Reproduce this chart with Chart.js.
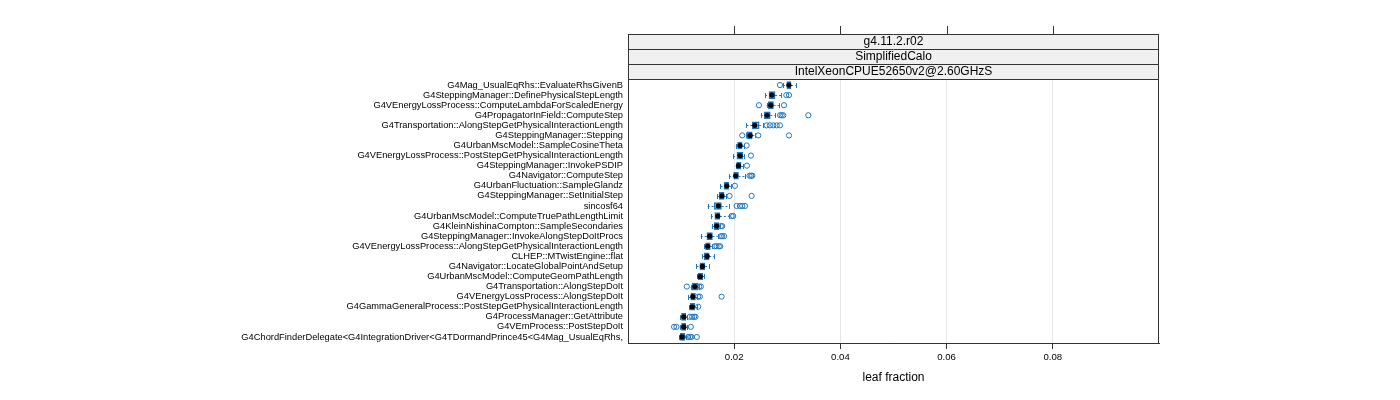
<!DOCTYPE html>
<html><head><meta charset="utf-8">
<script src="https://cdn.jsdelivr.net/npm/chart.js@4/dist/chart.umd.min.js"></script>
<style>html,body{margin:0;padding:0;background:#fff}#wrap{width:1400px;height:400px;position:relative}</style>
</head><body><div id="wrap"><canvas id="c" width="1400" height="400"></canvas></div>
<script>
const categories = [
  'G4Mag_UsualEqRhs::EvaluateRhsGivenB',
  'G4SteppingManager::DefinePhysicalStepLength',
  'G4VEnergyLossProcess::ComputeLambdaForScaledEnergy',
  'G4PropagatorInField::ComputeStep',
  'G4Transportation::AlongStepGetPhysicalInteractionLength',
  'G4SteppingManager::Stepping',
  'G4UrbanMscModel::SampleCosineTheta',
  'G4VEnergyLossProcess::PostStepGetPhysicalInteractionLength',
  'G4SteppingManager::InvokePSDIP',
  'G4Navigator::ComputeStep',
  'G4UrbanFluctuation::SampleGlandz',
  'G4SteppingManager::SetInitialStep',
  'sincosf64',
  'G4UrbanMscModel::ComputeTruePathLengthLimit',
  'G4KleinNishinaCompton::SampleSecondaries',
  'G4SteppingManager::InvokeAlongStepDoItProcs',
  'G4VEnergyLossProcess::AlongStepGetPhysicalInteractionLength',
  'CLHEP::MTwistEngine::flat',
  'G4Navigator::LocateGlobalPointAndSetup',
  'G4UrbanMscModel::ComputeGeomPathLength',
  'G4Transportation::AlongStepDoIt',
  'G4VEnergyLossProcess::AlongStepDoIt',
  'G4GammaGeneralProcess::PostStepGetPhysicalInteractionLength',
  'G4ProcessManager::GetAttribute',
  'G4VEmProcess::PostStepDoIt',
  'G4ChordFinderDelegate<G4IntegrationDriver<G4TDormandPrince45<G4Mag_UsualEqRhs,'
];
const whiskerLow  = [0.0292,0.0258,0.0261,0.0250,0.0223,0.0222,0.0203,0.0198,0.0203,0.0190,0.0174,0.0168,0.0150,0.0156,0.0159,0.0137,0.0143,0.0140,0.0129,0.0130,0.0118,0.0113,0.0115,0.0098,0.0098,0.0096];
const q1          = [0.0299,0.02655,0.02642,0.02566,0.0234,0.02234,0.02064,0.02051,0.02045,0.01989,0.01811,0.01717,0.01623,0.01636,0.01623,0.01485,0.0146,0.01434,0.01353,0.01321,0.01208,0.01183,0.0117,0.01008,0.01008,0.00981];
const median      = [0.0303,0.0271,0.0269,0.0262,0.0239,0.0230,0.0211,0.0211,0.0208,0.0203,0.0186,0.0177,0.0170,0.0169,0.0167,0.0154,0.0150,0.0149,0.0140,0.0136,0.0126,0.0122,0.0121,0.0105,0.0105,0.0102];
const q3          = [0.0307,0.0277,0.0274,0.0268,0.0247,0.0234,0.0215,0.0216,0.0213,0.0208,0.0190,0.0181,0.0176,0.0173,0.0171,0.0159,0.0155,0.0153,0.0145,0.0141,0.0132,0.0127,0.0126,0.0109,0.0109,0.0107];
const whiskerHigh = [0.0316,0.0288,0.0285,0.0277,0.0254,0.0240,0.0219,0.0218,0.0217,0.0220,0.0194,0.0185,0.0190,0.0190,0.0173,0.0169,0.0158,0.0162,0.0153,0.0143,0.0133,0.0130,0.0130,0.0112,0.0112,0.0110];
const outliers = [
  [0.02862],
  [0.02981,0.03032],
  [0.02466,0.02938],
  [0.02862,0.02894,0.02925,0.03396],
  [0.02611,0.02674,0.02736,0.0280,0.02862],
  [0.02151,0.02453,0.03032],
  [0.02234],
  [0.02315],
  [0.0224],
  [0.0229,0.0232,0.0234],
  [0.02013],
  [0.01913,0.02328],
  [0.02045,0.02108,0.02151,0.02202],
  [0.01951,0.01981],
  [0.01749,0.01774],
  [0.01749,0.01774,0.01811],
  [0.01636,0.01668,0.01711,0.01736],
  [],
  [],
  [],
  [0.01108,0.0134,0.01372],
  [0.01321,0.01353,0.01762],
  [0.01321],
  [0.01164,0.01208,0.01245,0.01271],
  [0.00868,0.00913,0.01183],
  [0.01132,0.0117,0.01196,0.01296]
];
const stripLabels = ['g4.11.2.r02','SimplifiedCalo','IntelXeonCPUE52650v2@2.60GHzS'];
const xTicks = [0.02,0.04,0.06,0.08];
const xTitle = 'leaf fraction';

const BLUE = '#1f78c0';
const FRAME = '#333333';
const FONT = '"Liberation Sans", Arial, Helvetica, sans-serif';

const boxData = categories.map((c,i)=>({x:[q1[i],q3[i]], y:i+1}));
const medData = categories.map((c,i)=>({x:median[i], y:i+1}));
const outData = [];
outliers.forEach((arr,i)=>arr.forEach(v=>outData.push({x:v, y:i+1})));

const whiskerPlugin = {
  id:'whiskers',
  beforeDatasetsDraw(chart){
    const ctx = chart.ctx, xs = chart.scales.x, ys = chart.scales.y;
    ctx.save();
    ctx.strokeStyle = BLUE; ctx.lineWidth = 1;
    categories.forEach((c,i)=>{
      const y = Math.round(ys.getPixelForValue(i+1)) + 0.5;
      const xl = xs.getPixelForValue(whiskerLow[i]), xa = xs.getPixelForValue(q1[i]);
      const xb = xs.getPixelForValue(q3[i]), xh = xs.getPixelForValue(whiskerHigh[i]);
      ctx.setLineDash([2,2]);
      ctx.beginPath(); ctx.moveTo(xl,y); ctx.lineTo(xa,y); ctx.moveTo(xb,y); ctx.lineTo(xh,y); ctx.stroke();
      ctx.setLineDash([]);
      ctx.beginPath();
      ctx.moveTo(Math.round(xl)+0.5,y-2.5); ctx.lineTo(Math.round(xl)+0.5,y+2.5);
      ctx.moveTo(Math.round(xh)+0.5,y-2.5); ctx.lineTo(Math.round(xh)+0.5,y+2.5);
      ctx.stroke();
    });
    ctx.restore();
  },
  afterDraw(chart){
    const ctx = chart.ctx, a = chart.chartArea, xs = chart.scales.x;
    ctx.save();
    const sh = 15, top = a.top - 3*sh;
    stripLabels.forEach((s,k)=>{
      ctx.fillStyle = '#f0f0f0';
      ctx.fillRect(a.left, top + k*sh, a.right-a.left, sh);
    });
    ctx.strokeStyle = FRAME; ctx.lineWidth = 1;
    for(let k=0;k<=3;k++){
      const y = Math.round(top + k*sh)+0.5;
      ctx.beginPath(); ctx.moveTo(a.left,y); ctx.lineTo(a.right,y); ctx.stroke();
    }
    ctx.fillStyle = '#000'; ctx.font = '12px '+FONT; ctx.textAlign='center'; ctx.textBaseline='middle';
    stripLabels.forEach((s,k)=>{
      ctx.fillText(s, (a.left+a.right)/2, top + k*sh + sh/2 + 0.5);
    });
    const L = Math.round(a.left)+0.5, R = Math.round(a.right)-0.5;
    ctx.beginPath();
    ctx.moveTo(L, Math.round(top)+0.5); ctx.lineTo(L, Math.round(a.bottom)+0.5);
    ctx.moveTo(R, Math.round(top)+0.5); ctx.lineTo(R, Math.round(a.bottom)+0.5);
    ctx.moveTo(L, Math.round(a.bottom)+0.5); ctx.lineTo(R, Math.round(a.bottom)+0.5);
    ctx.stroke();
    xTicks.forEach(v=>{
      const x = Math.round(xs.getPixelForValue(v))+0.5;
      ctx.beginPath(); ctx.moveTo(x, top-8); ctx.lineTo(x, top); ctx.stroke();
    });
    ctx.restore();
  }
};

new Chart(document.getElementById('c'), {
  data: {
    datasets: [
      { type:'bar', indexAxis:'y', data: boxData, backgroundColor:'rgba(0,0,0,0)', borderColor: BLUE, borderWidth:1, borderSkipped:false, barThickness:7, order:3 },
      { type:'scatter', data: outData, pointStyle:'circle', pointRadius:2.6, pointBorderWidth:1, pointBorderColor: BLUE, pointBackgroundColor:'rgba(0,0,0,0)', order:2 },
      { type:'scatter', data: medData, pointStyle:'circle', pointRadius:2.6, pointBorderWidth:0, pointBackgroundColor:'#000', order:1 }
    ]
  },
  options: {
    responsive:false, animation:false, devicePixelRatio:1,
    layout:{ padding:{ top:79, right:241, left:0, bottom:0 } },
    plugins:{ legend:{display:false}, tooltip:{enabled:false} },
    scales:{
      x:{ type:'linear', position:'bottom', min:0, max:0.1, offset:false,
        afterBuildTicks(s){ s.ticks = xTicks.map(v=>({value:v})); },
        afterFit(s){ s.height = 57; },
        grid:{ color:'#e6e6e6', tickColor: FRAME, tickLength:6, drawOnChartArea:true, offset:false },
        border:{ display:true, color: FRAME },
        ticks:{ font:{ family:FONT, size:9.6 }, color:'#000', padding:3, maxRotation:0, callback:(v)=>String(v) },
        title:{ display:true, text:xTitle, font:{ family:FONT, size:12 }, color:'#000', padding:{top:4,bottom:15} }
      },
      y:{ type:'linear', position:'left', reverse:true, min:0.4, max:26.6, offset:false,
        afterBuildTicks(s){ s.ticks = categories.map((c,i)=>({value:i+1})); },
        afterFit(s){ s.width = 628; },
        grid:{ display:false, drawTicks:false, tickLength:0, offset:false },
        border:{ display:true, color: FRAME },
        ticks:{ autoSkip:false, font:{ family:FONT, size:9.3 }, color:'#000', padding:5, callback:(v)=>categories[v-1] || '' }
      }
    }
  },
  plugins:[whiskerPlugin]
});
</script></body></html>
